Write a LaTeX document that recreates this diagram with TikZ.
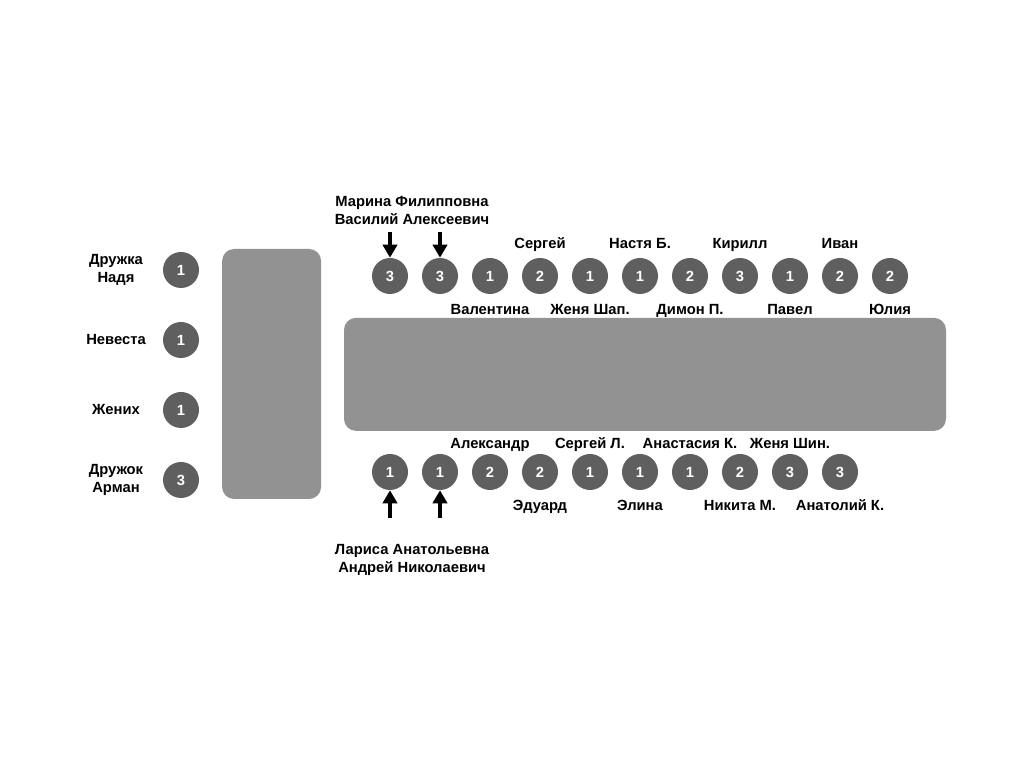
\documentclass[tikz,border=0pt]{standalone}
\usepackage{fontspec}
\setmainfont{Liberation Sans}
\usetikzlibrary{arrows.meta,positioning}
\definecolor{seatgray}{HTML}{5F5F5F}
\definecolor{tablegray}{HTML}{929292}

\begin{document}
\begin{tikzpicture}[
    seat/.style={circle, fill=seatgray, text=white, minimum size=0.9cm, inner sep=0pt, font=\bfseries\fontsize{10.5}{12.8}\selectfont},
    guest/.style={align=center, inner sep=0pt, font=\bfseries\fontsize{10.5}{12.8}\selectfont},
    lone/.style={guest, text height=1.6ex, text depth=0.3ex},
    tablebox/.style={fill=tablegray, rounded corners=0.3cm, inner sep=0pt},
    arr/.style={-{Triangle[length=3.3mm, width=3.6mm]}, line width=3pt}
]
\useasboundingbox (0,0) rectangle (25.6,19.2);

% tables
\node[tablebox, minimum width=2.475cm, minimum height=6.25cm] (sidetable) at (6.79,9.85) {};
\node[tablebox, minimum width=15.05cm, minimum height=2.825cm] (maintable) at (16.125,9.84) {};

% head table
\node[seat] (bridesmaid) at (4.525,12.45) {1};
\node[seat] (bride) at (4.525,10.7) {1};
\node[seat] (groom) at (4.525,8.95) {1};
\node[seat] (bestman) at (4.525,7.2) {3};
\node[guest] (lbridesmaid) at (2.9,12.45) {Дружка\\Надя};
\node[lone] (lbride) at (2.9,10.7) {Невеста};
\node[lone] (lgroom) at (2.9,8.95) {Жених};
\node[guest] (lbestman) at (2.9,7.2) {Дружок\\Арман};

% upper row
\node[seat] (up1) at (9.75,12.3) {3};
\node[seat] (up2) at (11.0,12.3) {3};
\node[seat] (up3) at (12.25,12.3) {1};
\node[seat] (up4) at (13.5,12.3) {2};
\node[seat] (up5) at (14.75,12.3) {1};
\node[seat] (up6) at (16.0,12.3) {1};
\node[seat] (up7) at (17.25,12.3) {2};
\node[seat] (up8) at (18.5,12.3) {3};
\node[seat] (up9) at (19.75,12.3) {1};
\node[seat] (up10) at (21.0,12.3) {2};
\node[seat] (up11) at (22.25,12.3) {2};

\node[guest] (lup12) at (10.3,13.95) {Марина Филипповна\\Василий Алексеевич};
\node[lone] (lup3) at (12.25,11.45) {Валентина};
\node[lone] (lup4) at (13.5,13.1) {Сергей};
\node[lone] (lup5) at (14.75,11.45) {Женя Шап.};
\node[lone] (lup6) at (16.0,13.1) {Настя Б.};
\node[lone] (lup7) at (17.25,11.45) {Димон П.};
\node[lone] (lup8) at (18.5,13.1) {Кирилл};
\node[lone] (lup9) at (19.75,11.45) {Павел};
\node[lone] (lup10) at (21.0,13.1) {Иван};
\node[lone] (lup11) at (22.25,11.45) {Юлия};

% lower row
\node[seat] (low1) at (9.75,7.4) {1};
\node[seat] (low2) at (11.0,7.4) {1};
\node[seat] (low3) at (12.25,7.4) {2};
\node[seat] (low4) at (13.5,7.4) {2};
\node[seat] (low5) at (14.75,7.4) {1};
\node[seat] (low6) at (16.0,7.4) {1};
\node[seat] (low7) at (17.25,7.4) {1};
\node[seat] (low8) at (18.5,7.4) {2};
\node[seat] (low9) at (19.75,7.4) {3};
\node[seat] (low10) at (21.0,7.4) {3};

\node[guest] (llow12) at (10.3,5.21) {Лариса Анатольевна\\Андрей Николаевич};
\node[lone] (llow3) at (12.25,8.1) {Александр};
\node[lone] (llow4) at (13.5,6.55) {Эдуард};
\node[lone] (llow5) at (14.75,8.1) {Сергей Л.};
\node[lone] (llow6) at (16.0,6.55) {Элина};
\node[lone] (llow7) at (17.25,8.1) {Анастасия К.};
\node[lone] (llow8) at (18.5,6.55) {Никита М.};
\node[lone] (llow9) at (19.75,8.1) {Женя Шин.};
\node[lone] (llow10) at (21.0,6.55) {Анатолий К.};

% parents
\coordinate (pup1) at (9.75,13.4);
\coordinate (pup2) at (11.0,13.4);
\coordinate (plow1) at (9.75,6.25);
\coordinate (plow2) at (11.0,6.25);
\draw[arr] (pup1) -- (up1);
\draw[arr] (pup2) -- (up2);
\draw[arr] (plow1) -- (low1);
\draw[arr] (plow2) -- (low2);
\end{tikzpicture}
\end{document}
